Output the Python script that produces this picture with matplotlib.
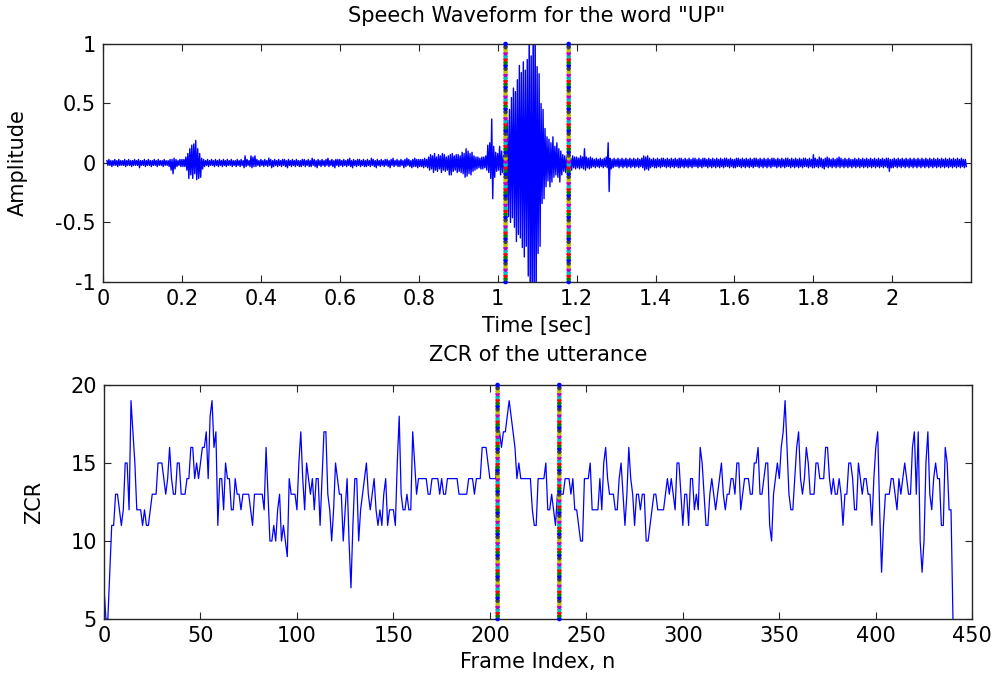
import numpy as np
import matplotlib
matplotlib.use("Agg")
import matplotlib.pyplot as plt

plt.rcParams['font.family'] = ['DejaVu Sans']

# ---------------- data ----------------
# waveform envelope (hundredths), sampled every 5 ms starting at 0.01 s
wave_t0 = 0.01
wave_dt = 0.005
wave_hi = [
    2,3,2,2,3,2,3,2,2,3,2,3,2,2,3,2,3,2,
    2,3,2,3,2,2,3,2,3,2,2,3,2,2,3,3,4,3,2,3,
    3,3,5,8,12,15,16,19,12,8,4,3,2,3,2,3,2,3,2,3,
    2,3,2,3,2,3,2,2,3,2,3,2,6,3,2,6,5,6,3,2,
    3,2,3,2,4,3,2,3,2,3,2,3,3,2,3,2,3,2,3,2,
    2,3,3,2,3,2,4,3,2,3,2,3,2,3,4,2,3,2,3,3,
    3,2,3,2,3,4,2,3,2,3,3,2,3,2,3,2,4,3,2,3,
    2,3,2,3,3,2,3,4,2,3,2,3,2,3,4,3,2,3,4,3,
    3,3,3,4,3,5,7,6,8,5,7,6,8,7,5,6,7,8,6,7,
    7,6,9,8,12,10,8,9,6,5,5,4,5,5,6,15,17,37,14,9,
    8,14,10,6,26,36,45,55,63,60,70,82,76,85,78,87,120,90,120,120,
    81,75,50,45,29,22,20,17,22,14,17,12,10,7,6,5,5,4,6,5,
    5,4,6,5,12,5,4,5,4,3,4,3,4,3,4,5,17,4,3,4,
    3,4,3,4,3,4,3,4,3,4,3,4,3,4,6,5,6,4,3,4,
    3,4,3,4,4,3,4,3,4,3,4,3,4,4,3,4,3,4,3,4,
    4,3,4,3,4,4,3,4,3,4,3,4,3,4,3,4,4,3,4,3,
    3,4,4,3,4,3,4,3,4,3,4,4,3,4,3,4,3,4,3,4,
    4,3,4,3,4,3,4,4,3,4,3,4,3,4,3,4,4,3,4,3,
    7,4,3,5,4,3,4,5,4,3,4,3,4,5,4,3,4,3,4,3,
    3,4,3,4,3,4,3,4,3,4,3,4,3,4,3,4,3,4,4,3,
    3,4,3,4,3,4,3,4,3,4,3,4,3,4,3,4,3,4,3,4,
    3,4,3,4,3,4,3,4,3,4,3,4,3,4,3,4,3,3,
]
wave_lo = [
    -2,-2,-3,-2,-2,-3,-2,-2,-2,-3,-2,-2,-3,-2,-2,-2,-4,-2,
    -2,-3,-2,-2,-3,-2,-2,-3,-2,-2,-3,-2,-2,-3,-6,-9,-5,-3,-2,-3,
    -3,-3,-6,-13,-10,-13,-9,-14,-13,-12,-5,-3,-2,-3,-2,-2,-3,-2,-3,-2,
    -3,-2,-3,-2,-2,-3,-2,-3,-2,-3,-2,-4,-3,-2,-3,-4,-3,-3,-2,-3,
    -2,-3,-2,-3,-2,-4,-3,-2,-3,-2,-3,-2,-3,-4,-2,-3,-2,-3,-2,-3,
    -3,-2,-3,-2,-3,-3,-2,-3,-4,-2,-3,-2,-3,-2,-3,-2,-3,-4,-2,-3,
    -2,-3,-2,-3,-2,-3,-4,-2,-3,-2,-3,-2,-3,-3,-2,-3,-2,-3,-4,-2,
    -3,-2,-3,-2,-3,-4,-2,-3,-2,-3,-3,-2,-4,-3,-2,-3,-4,-3,-3,-4,
    -3,-3,-4,-3,-4,-6,-5,-8,-6,-7,-5,-8,-6,-7,-6,-10,-10,-7,-6,-8,
    -7,-8,-9,-12,-11,-9,-10,-7,-6,-5,-4,-5,-5,-4,-6,-8,-13,-30,-12,-7,
    -6,-10,-8,-5,-33,-45,-50,-46,-54,-66,-60,-63,-71,-79,-70,-95,-120,-120,-120,-120,
    -76,-70,-34,-30,-20,-15,-20,-16,-12,-10,-12,-16,-10,-7,-8,-6,-5,-6,-4,-5,
    -4,-5,-4,-5,-6,-4,-5,-4,-3,-4,-3,-4,-3,-4,-3,-4,-24,-5,-4,-3,
    -3,-4,-3,-4,-3,-4,-3,-4,-3,-4,-3,-4,-3,-4,-6,-5,-6,-4,-3,-4,
    -4,-3,-4,-3,-3,-4,-3,-4,-3,-4,-3,-4,-4,-3,-4,-3,-4,-3,-4,-3,
    -3,-4,-3,-4,-3,-3,-4,-3,-4,-3,-4,-3,-4,-3,-4,-3,-3,-4,-3,-4,
    -4,-3,-3,-4,-3,-4,-3,-4,-3,-4,-3,-3,-4,-3,-4,-3,-4,-3,-4,-3,
    -3,-4,-3,-4,-3,-4,-3,-3,-4,-3,-4,-3,-4,-3,-4,-3,-3,-4,-3,-4,
    -4,-3,-4,-3,-4,-5,-3,-4,-3,-4,-3,-4,-3,-4,-3,-4,-3,-4,-3,-4,
    -3,-4,-3,-4,-3,-4,-3,-4,-3,-4,-3,-4,-3,-4,-3,-4,-3,-4,-7,-4,
    -4,-3,-4,-3,-4,-3,-4,-3,-4,-3,-4,-3,-4,-3,-4,-3,-4,-3,-4,-3,
    -4,-3,-4,-3,-4,-3,-4,-3,-4,-3,-4,-3,-4,-3,-4,-3,-4,-3,
]

# zero crossing rate per frame (frame 0 .. 440)
zcr = [
    7,5,5,8,11,11,13,13,12,11,
    12,15,15,12,19,17,15,12,12,12,
    11,12,11,11,12,13,13,13,15,15,
    15,14,13,14,16,14,13,13,15,15,
    13,13,13,14,14,16,16,14,15,14,
    15,16,16,17,14,18,19,16,17,11,
    14,14,12,15,14,14,12,12,14,13,
    13,12,13,13,13,13,12,11,13,13,
    13,13,13,12,16,13,10,10,11,10,
    12,13,10,11,10,9,14,13,13,13,
    12,15,17,14,12,15,14,13,14,12,
    14,14,11,14,17,17,13,12,10,12,
    15,14,13,13,10,12,14,10,7,11,
    14,14,10,12,13,14,15,13,12,13,
    14,12,11,12,11,13,14,11,12,12,
    12,11,15,18,13,12,12,13,12,12,
    17,15,13,14,14,14,14,14,13,13,
    14,14,14,14,13,14,13,13,14,14,
    14,14,14,14,13,13,13,13,13,14,
    14,14,13,14,14,14,16,16,16,15,
    14,14,14,14,16,17,16,17,17,18,
    19,18,17,16,14,15,14,14,14,14,
    14,14,12,11,11,14,14,14,14,15,
    12,12,13,12,11,13,13,13,13,14,
    14,14,13,14,12,12,11,10,10,14,
    14,14,15,12,12,12,12,14,12,15,
    16,14,13,13,13,12,12,14,15,13,
    11,13,16,14,13,11,13,13,12,13,
    13,10,10,11,12,13,13,12,12,12,
    12,13,14,13,14,13,12,15,15,13,
    11,13,13,11,14,14,12,13,12,16,
    15,13,11,11,13,14,13,12,13,14,
    15,13,12,13,13,14,14,13,15,15,
    12,13,14,14,14,13,13,15,15,16,
    13,13,14,15,15,11,10,13,14,15,
    14,16,17,19,16,13,12,12,14,16,
    17,14,13,14,16,15,13,13,13,15,
    15,14,14,14,16,16,14,13,14,13,
    13,14,13,11,13,13,15,15,14,12,
    12,15,14,13,14,14,13,13,11,14,
    16,17,12,8,11,13,13,13,14,14,
    13,12,14,13,14,15,14,13,13,16,
    17,13,17,10,8,10,15,17,13,12,
    14,15,14,14,11,11,16,15,12,12,
    5,
]

# detected word boundaries
bound_frames = [204, 236]
bound_times = [1.02, 1.18]

top_xticks = [0, 0.2, 0.4, 0.6, 0.8, 1, 1.2, 1.4, 1.6, 1.8, 2]
top_xticklabels = ['0', '0.2', '0.4', '0.6', '0.8', '1', '1.2', '1.4', '1.6', '1.8', '2']
top_yticks = [-1, -0.5, 0, 0.5, 1]
top_yticklabels = ['-1', '-0.5', '0', '0.5', '1']
bot_xticks = [0, 50, 100, 150, 200, 250, 300, 350, 400, 450]
bot_yticks = [5, 10, 15, 20]

dot_colors = [(0, 0, 1), (0, 0.5, 0), (1, 0, 0), (0, 0.75, 0.75),
              (0.75, 0, 0.75), (0.75, 0.75, 0), (0.25, 0.25, 0.25)]

# ---------------- figure ----------------
fig = plt.figure(figsize=(9.98, 6.8), dpi=100)
ax1 = fig.add_axes([0.1032, 0.5853, 0.8700, 0.3500])
ax2 = fig.add_axes([0.1042, 0.0897, 0.8700, 0.3441])

FS = 15
axis_col = (0.15, 0.15, 0.15)

# top: waveform
hi = np.array(wave_hi) / 100.0
lo = np.array(wave_lo) / 100.0
t = wave_t0 + wave_dt * np.arange(len(hi))
xs = np.empty(2 * len(t)); ys = np.empty(2 * len(t))
xs[0::2] = t; xs[1::2] = t + wave_dt / 2
ys[0::2] = hi; ys[1::2] = lo
ax1.plot(xs, ys, color=(0, 0, 1), lw=1.0)
ax1.set_xlim(0, 2.2)
ax1.set_ylim(-1, 1)

def dotted_bounds(ax, positions, ymin, ymax, n):
    yy = np.linspace(ymin, ymax, n)
    cols = [dot_colors[i % len(dot_colors)] for i in range(n)]
    for p in positions:
        ax.scatter(np.full(n, p), yy, s=11, c=cols, marker='o',
                   linewidths=0, zorder=3, clip_on=False)

dotted_bounds(ax1, bound_times, -1, 1, 78)

ax1.set_xticks(top_xticks)
ax1.set_xticklabels(top_xticklabels)
ax1.set_yticks(top_yticks)
ax1.set_yticklabels(top_yticklabels)
ax1.set_title('Speech Waveform for the word "UP"', fontsize=FS, pad=16)
ax1.set_xlabel('Time [sec]', fontsize=FS, labelpad=5)
ax1.set_ylabel('Amplitude', fontsize=FS, labelpad=20)

# bottom: ZCR
frames = np.arange(len(zcr))
ax2.plot(frames, zcr, color=(0, 0, 1), lw=0.9)
ax2.set_xlim(0, 450)
ax2.set_ylim(5, 20)
dotted_bounds(ax2, bound_frames, 5, 20, 78)
ax2.set_xticks(bot_xticks)
ax2.set_yticks(bot_yticks)
ax2.set_title('ZCR of the utterance', fontsize=FS, pad=17)
ax2.set_xlabel('Frame Index, n', fontsize=FS, labelpad=4)
ax2.set_ylabel('ZCR', fontsize=FS, labelpad=19)

for ax in (ax1, ax2):
    ax.tick_params(direction='in', length=5, width=0.8, top=True, right=True,
                   labelsize=FS, colors=axis_col, labelcolor='black', pad=5)
    for s in ax.spines.values():
        s.set_color(axis_col)
        s.set_linewidth(1.0)

fig.savefig('out.png', dpi=100)
